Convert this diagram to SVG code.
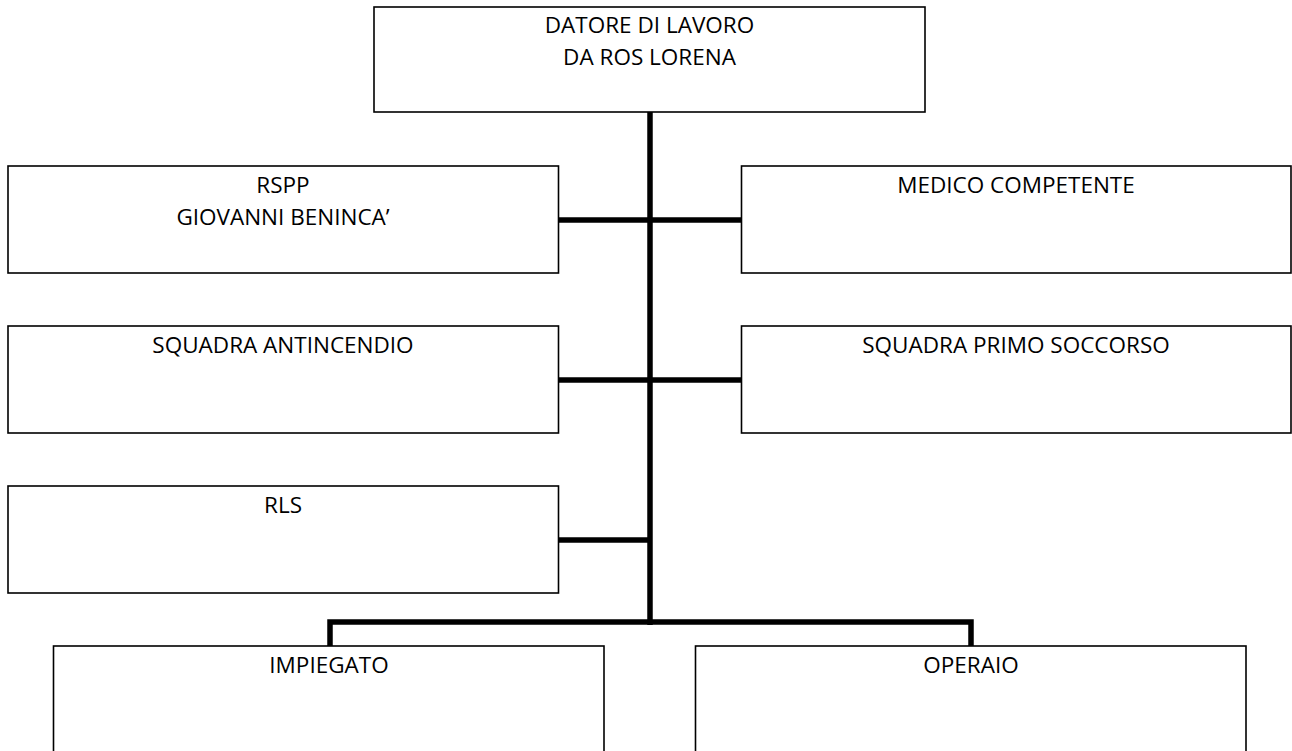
<svg xmlns="http://www.w3.org/2000/svg" width="1292" height="751" viewBox="0 0 1292 751">
<style>
.box{fill:#fff;stroke:#000;stroke-width:1.6}
.lbl{font-family:"Open Sans","Liberation Sans",sans-serif;font-size:22.5px;fill:#000;text-anchor:middle}
.conn{fill:none;stroke:#000;stroke-width:5.5;stroke-linecap:butt;stroke-linejoin:miter}
</style>
<rect width="1292" height="751" fill="#fff"/>
<g id="connectors">
<line class="conn" x1="650" y1="112" x2="650" y2="625"/>
<line class="conn" x1="558" y1="220" x2="741" y2="220"/>
<line class="conn" x1="558" y1="380" x2="741" y2="380"/>
<line class="conn" x1="558" y1="540" x2="650" y2="540"/>
<polyline class="conn" points="330,646 330,622 971,622 971,646"/>
</g>
<g id="datore">
<rect class="box" x="374" y="7" width="551" height="105"/>
<text class="lbl" x="649.5" y="33">DATORE DI LAVORO</text>
<text class="lbl" x="649.5" y="65">DA ROS LORENA</text>
</g>
<g id="rspp">
<rect class="box" x="8" y="166" width="550.5" height="107"/>
<text class="lbl" x="283" y="193">RSPP</text>
<text class="lbl" x="283" y="225">GIOVANNI BENINCA’</text>
</g>
<g id="medico">
<rect class="box" x="741.5" y="166" width="549.5" height="107"/>
<text class="lbl" x="1016" y="193">MEDICO COMPETENTE</text>
</g>
<g id="antincendio">
<rect class="box" x="8" y="326" width="550.5" height="107"/>
<text class="lbl" x="283" y="353">SQUADRA ANTINCENDIO</text>
</g>
<g id="primosoccorso">
<rect class="box" x="741.5" y="326" width="549.5" height="107"/>
<text class="lbl" x="1016" y="353">SQUADRA PRIMO SOCCORSO</text>
</g>
<g id="rls">
<rect class="box" x="8" y="486" width="550.5" height="107"/>
<text class="lbl" x="283" y="513">RLS</text>
</g>
<g id="impiegato">
<rect class="box" x="53.5" y="646" width="550.5" height="110"/>
<text class="lbl" x="329" y="673">IMPIEGATO</text>
</g>
<g id="operaio">
<rect class="box" x="695.5" y="646" width="550.5" height="110"/>
<text class="lbl" x="971" y="673">OPERAIO</text>
</g>
</svg>
